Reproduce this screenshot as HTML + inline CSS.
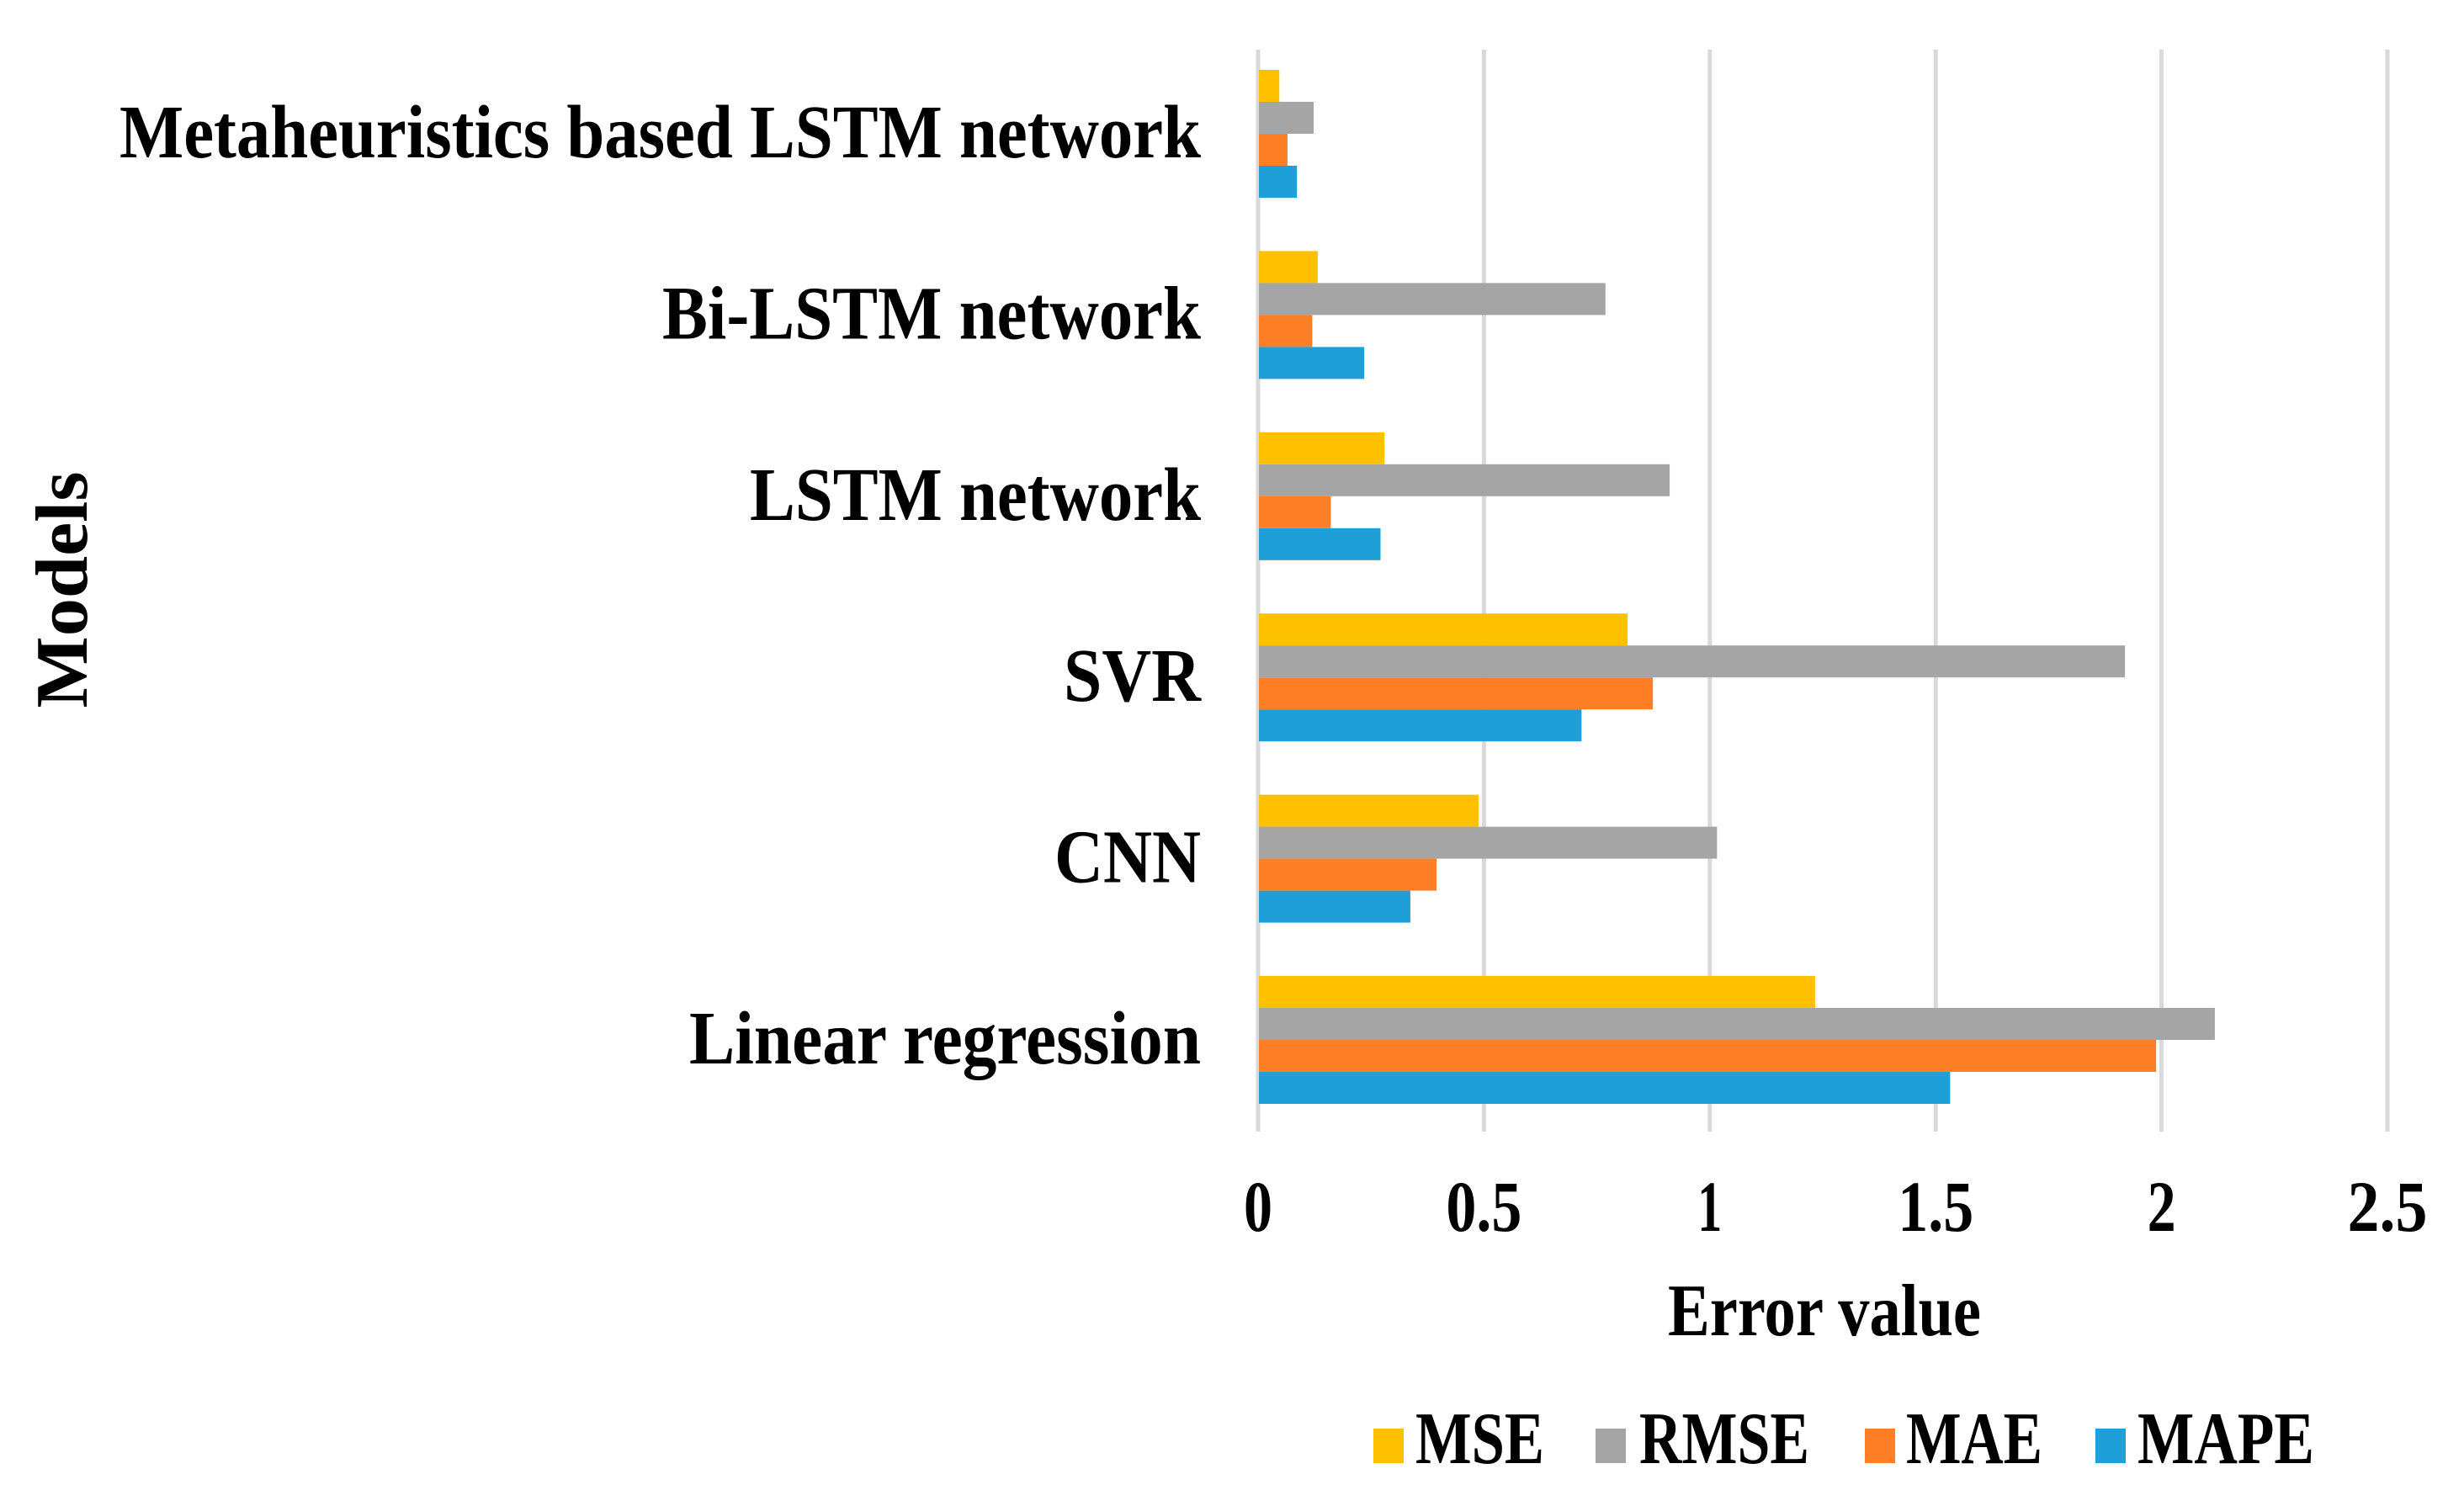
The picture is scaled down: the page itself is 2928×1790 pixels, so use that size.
<!DOCTYPE html>
<html><head><meta charset="utf-8"><style>
html,body{margin:0;padding:0;background:#fff;}
svg{display:block;}
text{font-family:"Liberation Serif",serif;font-weight:bold;fill:#000;}
</style></head>
<body>
<svg id="chart" width="2928" height="1790" viewBox="0 0 2928 1790" xmlns="http://www.w3.org/2000/svg">
<g id="grid"></g>
<g id="bars"></g>
<g id="ylabels"></g>
<g id="xlabels"></g>
<text x="0" y="0" font-size="88" text-anchor="middle" textLength="281" lengthAdjust="spacingAndGlyphs" transform="translate(103,701) rotate(-90)">Models</text>
<text x="1982" y="1587" font-size="88" textLength="372" lengthAdjust="spacingAndGlyphs">Error value</text>
<g id="legend"></g>
</svg>
<script>
const categories = ["Metaheuristics based LSTM network","Bi-LSTM network","LSTM network","SVR","CNN","Linear regression"];
const seriesNames = ["MSE","RMSE","MAE","MAPE"];
const mseValues  = [0.047, 0.132, 0.280, 0.818, 0.488, 1.233];
const rmseValues = [0.123, 0.769, 0.911, 1.919, 1.016, 2.118];
const maeValues  = [0.065, 0.120, 0.161, 0.874, 0.395, 1.988];
const mapeValues = [0.086, 0.235, 0.271, 0.716, 0.337, 1.532];
const xTicks = [0, 0.5, 1, 1.5, 2, 2.5];
const xTickLabels = ["0","0.5","1","1.5","2","2.5"];

const NS = "http://www.w3.org/2000/svg";
const colors = ["#FFC000","#A5A5A5","#FF7F27","#1E9FD8"];
const series = [mseValues, rmseValues, maeValues, mapeValues];
const labelWidths = [1285, 640, 536, 163, 174, 608];
const tickWidths = [34, 90, 29, 90, 34, 95];
const X0 = 1495, UNIT = 536.8, PLOT_TOP = 59, PLOT_BOTTOM = 1345;
const GROUP_START = 83, BAND = 215.4, BAR_H = 38;
function xScale(v){ return X0 + v * UNIT; }
function groupTop(i){ return GROUP_START + i * BAND; }
function mk(tag, attrs){ const e = document.createElementNS(NS, tag); for (const k in attrs) e.setAttribute(k, attrs[k]); return e; }

const grid = document.getElementById('grid');
xTicks.forEach((t, i) => {
  const l = mk('line', {x1: xScale(t), x2: xScale(t), y1: PLOT_TOP, y2: PLOT_BOTTOM, stroke: '#d9d9d9', 'stroke-width': 5});
  
  
  grid.appendChild(l);
});

const bars = document.getElementById('bars');
categories.forEach((c, i) => {
  series.forEach((vals, s) => {
    const r = mk('rect', {x: xScale(0) + 1, y: groupTop(i) + s * BAR_H, width: Math.max(0, xScale(vals[i]) - xScale(0) - 1), height: BAR_H, fill: colors[s]});
    
    
    bars.appendChild(r);
  });
});

const yl = document.getElementById('ylabels');
categories.forEach((c, i) => {
  const t = mk('text', {x: 1427, y: groupTop(i) + 2 * BAR_H + 28, 'font-size': 90, 'text-anchor': 'end', textLength: labelWidths[i], lengthAdjust: 'spacingAndGlyphs'});
  t.textContent = c;
  
  
  yl.appendChild(t);
});

const xl = document.getElementById('xlabels');
xTicks.forEach((v, i) => {
  const t = mk('text', {x: xScale(v), y: 1463, 'font-size': 86, 'text-anchor': 'middle', textLength: tickWidths[i], lengthAdjust: 'spacingAndGlyphs'});
  t.textContent = xTickLabels[i];
  
  
  xl.appendChild(t);
});

const legend = document.getElementById('legend');
const legSq = [1632, 1896, 2216, 2490];
const legTx = [1682, 1948, 2265, 2540];
const legTw = [153, 202, 162, 210];
seriesNames.forEach((n, s) => {
  const r = mk('rect', {x: legSq[s], y: 1698, width: 36, height: 41, fill: colors[s]});
  
  
  legend.appendChild(r);
  const t = mk('text', {x: legTx[s], y: 1739, 'font-size': 88, textLength: legTw[s], lengthAdjust: 'spacingAndGlyphs'});
  t.textContent = n;
  
  
  legend.appendChild(t);
});
</script>
</body></html>
